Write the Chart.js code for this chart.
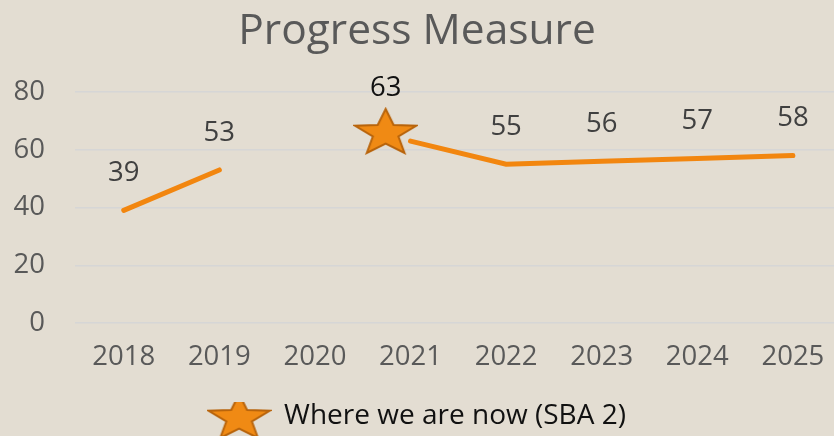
<!DOCTYPE html>
<html>
<head>
<meta charset="utf-8">
<script src="https://cdn.jsdelivr.net/npm/chart.js@4"></script>
<style>
  html, body { margin: 0; padding: 0; background: #E3DDD2; }
  #wrap { width: 834px; height: 436px; }
</style>
</head>
<body>
<div id="wrap"><canvas id="chartProgress"></canvas></div>
<script>
// Data
var years = [2018, 2019, 2020, 2021, 2022, 2023, 2024, 2025];
var progress = [39, 53, null, 63, 55, 56, 57, 58];
var nowLabel = 'Where we are now (SBA 2)';
var nowPoint = [{ x: 2020.74, y: 66.5, label: 63 }];
var yTicks = [0, 20, 40, 60, 80];

// star marker (a bit squashed, like the slide shape), used on chart and legend
function makeStar(w, h) {
    var c = document.createElement('canvas');
    c.width = w; c.height = h;
    var g = c.getContext('2d');
    var rx = (w - 4) / 1.902, ry = (h - 4) / 1.809;
    var cx = w / 2, cy = 2 + ry;
    g.beginPath();
    for (var i = 0; i < 10; i++) {
        var k = i % 2 === 0 ? 1 : 0.42;
        var a = -Math.PI / 2 + i * Math.PI / 5;
        g.lineTo(cx + rx * k * Math.cos(a), cy + ry * k * Math.sin(a));
    }
    g.closePath();
    g.fillStyle = '#F08A14';
    g.fill();
    g.lineWidth = 2;
    g.strokeStyle = '#B8640C';
    g.stroke();
    return c;
}
var star = makeStar(65, 48);

var lineData = years.map(function (y, i) { return { x: y, y: progress[i] }; });

// value labels above points
var valueLabels = {
    id: 'valueLabels',
    afterDatasetsDraw: function (chart) {
        var ctx = chart.ctx;
        ctx.save();
        ctx.font = '27.5px "Open Sans"';
        ctx.textAlign = 'center';
        ctx.textBaseline = 'middle';
        chart.data.datasets.forEach(function (ds, di) {
            var meta = chart.getDatasetMeta(di);
            meta.data.forEach(function (pt, i) {
                var d = ds.data[i];
                if (d.y === null || ds.skipLabel && ds.skipLabel(i)) return;
                var txt = d.label !== undefined ? d.label : d.y;
                ctx.fillStyle = ds.labelColor;
                ctx.fillText(txt, pt.x, pt.y - ds.labelOffset);
            });
        });
        ctx.restore();
    }
};

var ctx = document.getElementById('chartProgress').getContext('2d');
var chart = new Chart(ctx, {
    type: 'line',
    data: {
        datasets: [{
            label: 'Progress',
            data: lineData,
            borderColor: '#F2860F',
            borderWidth: 5,
            borderCapStyle: 'round',
            pointRadius: 0,
            spanGaps: false,
            labelColor: '#404040',
            labelOffset: 37,
            skipLabel: function (i) { return years[i] === 2021; }
        }, {
            label: nowLabel,
            data: nowPoint,
            showLine: false,
            pointStyle: star,
            pointRadius: 30,
            clip: false,
            labelColor: '#111111',
            labelOffset: 43
        }]
    },
    options: {
        responsive: true,
        maintainAspectRatio: false,
        animation: false,
        layout: { autoPadding: false, padding: { left: 0, right: 0, top: 6, bottom: -4 } },
        plugins: {
            title: {
                display: true,
                text: 'Progress Measure',
                color: '#595959',
                font: { family: 'Open Sans', size: 42.5, weight: 'normal' },
                padding: { top: 0, bottom: 35 }
            },
            legend: {
                position: 'bottom',
                labels: {
                    filter: function (item) { return item.text === nowLabel; },
                    usePointStyle: true,
                    pointStyleWidth: 62,
                    color: '#111111',
                    font: { family: 'Open Sans', size: 28 },
                    padding: 0
                }
            },
            tooltip: { enabled: false }
        },
        scales: {
            x: {
                type: 'linear',
                min: 2017.49,
                max: 2025.43,
                afterBuildTicks: function (s) { s.ticks = years.map(function (v) { return { value: v }; }); },
                afterFit: function (s) { s.paddingRight = 0; s.paddingLeft = 0; s.height += 18; },
                grid: { display: false },
                border: { display: false },
                ticks: {
                    color: '#595959',
                    font: { family: 'Open Sans', size: 27.5 },
                    padding: 10,
                    maxRotation: 0,
                    callback: function (v) { return String(v); }
                }
            },
            y: {
                min: 0,
                max: 80,
                afterBuildTicks: function (s) { s.ticks = yTicks.map(function (v) { return { value: v }; }); },
                afterFit: function (s) { s.width = 75; },
                grid: { color: '#D6D6D6', lineWidth: 1.5, drawTicks: false },
                border: { display: false },
                ticks: {
                    color: '#595959',
                    font: { family: 'Open Sans', size: 27.5 },
                    padding: 30
                }
            }
        }
    },
    plugins: [valueLabels]
});
</script>
</body>
</html>
